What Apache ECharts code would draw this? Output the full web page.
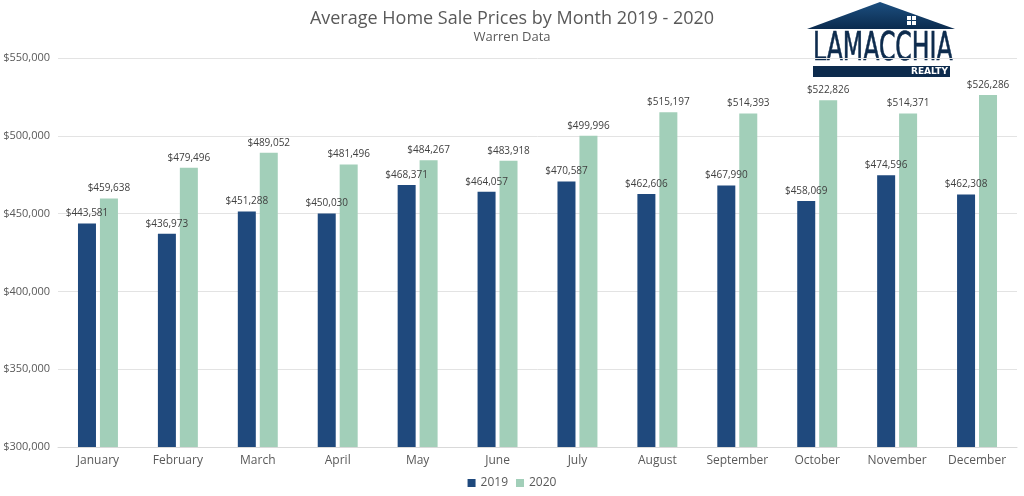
<!DOCTYPE html>
<html><head><meta charset="utf-8">
<script src="https://cdn.jsdelivr.net/npm/echarts@6/dist/echarts.min.js"></script>
<style>html,body{margin:0;padding:0;background:#fff}#c{width:1024px;height:496px}</style>
</head><body><div id="c"></div>
<script>
const months = ['January','February','March','April','May','June','July','August','September','October','November','December'];
const v2019 = [443581,436973,451288,450030,468371,464057,470587,462606,467990,458069,474596,462308];
const v2020 = [459638,479496,489052,481496,484267,483918,499996,515197,514393,522826,514371,526286];
const font = "'Open Sans', 'DejaVu Sans', sans-serif";
const fmt = v => '$' + v.toLocaleString('en-US');
const chart = echarts.init(document.getElementById('c'));
chart.setOption({
  animation:false,
  title:{text:'Average Home Sale Prices by Month 2019 - 2020', subtext:'Warren Data', left:'center', top:5, itemGap:3,
    textStyle:{fontFamily:font,fontSize:18,fontWeight:'normal',color:'#595959'},
    subtextStyle:{fontFamily:font,fontSize:13,color:'#595959'}},
  legend:{bottom:2,left:'center',itemWidth:8,itemHeight:8,itemGap:8,icon:'rect',
    textStyle:{fontFamily:font,fontSize:12,color:'#595959'}},
  grid:{left:58,right:7,top:58,bottom:49},
  xAxis:{type:'category',data:months,axisTick:{show:false},axisLine:{lineStyle:{color:'#d9d9d9'}},
    axisLabel:{interval:0,fontFamily:font,fontSize:12,color:'#595959',margin:8}},
  yAxis:{type:'value',min:300000,max:550000,interval:50000,
    axisLabel:{formatter:v=>fmt(v),fontFamily:font,fontSize:11,color:'#595959',margin:8},
    splitLine:{lineStyle:{color:'#e3e3e3'}},axisLine:{show:false}},
  series:[
    {name:'2019',type:'bar',data:v2019,barWidth:18,barGap:'22%',itemStyle:{color:'#1F497D'},
      label:{show:true,position:'top',distance:5,formatter:p=>fmt(p.value),fontFamily:font,fontSize:10,color:'#404040'}},
    {name:'2020',type:'bar',data:v2020,barWidth:18,itemStyle:{color:'#A2CFB9'},
      label:{show:true,position:'top',distance:5,formatter:p=>fmt(p.value),fontFamily:font,fontSize:10,color:'#404040'}}
  ],
  graphic:[
    {type:'polygon',shape:{points:[[807,29],[880,2],[955,29]]},
      style:{fill:new echarts.graphic.LinearGradient(0,0,0,1,[{offset:0,color:'#1c4f80'},{offset:1,color:'#0b2b4e'}])}},
    {type:'rect',shape:{x:907,y:16,width:9,height:9},style:{fill:'#ffffff'}},
    {type:'rect',shape:{x:911,y:16,width:1,height:9},style:{fill:'#153e67'}},
    {type:'rect',shape:{x:907,y:20,width:9,height:1},style:{fill:'#153e67'}},
    {type:'text',x:813,y:30,scaleX:0.69,scaleY:1.05,originX:0,originY:0,
      style:{text:'LAMACCHIA',x:0,y:0,font:"38px 'Liberation Sans Narrow', 'DejaVu Sans Condensed', sans-serif",fill:'#0d2b4d',stroke:'#0d2b4d',lineWidth:0.6,textVerticalAlign:'top'}},
    {type:'rect',shape:{x:813,y:66,width:137,height:11},style:{fill:'#0d2b4d'}},
    {type:'text',x:911,y:67,style:{text:'REALTY',x:0,y:0,font:"bold 9px 'DejaVu Sans', sans-serif",fill:'#ffffff',textVerticalAlign:'top'}}
  ]
});
</script></body></html>
